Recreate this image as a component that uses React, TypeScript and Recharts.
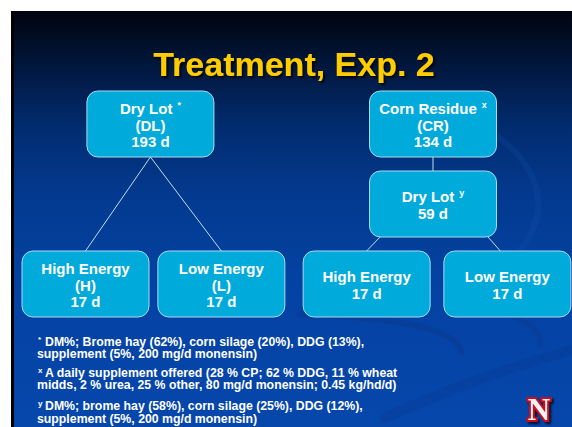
import React from 'react';
import { ScatterChart, Scatter, XAxis, YAxis } from 'recharts';

// tree nodes (x = % of slide width, level = row of the tree)
const nodeIds = ['DL', 'CR', 'DLY', 'H', 'L', 'HE', 'LE'];
const nodeLines = [
  ['Dry Lot', '(DL)', '193 d'],
  ['Corn Residue', '(CR)', '134 d'],
  ['Dry Lot', '59 d'],
  ['High Energy', '(H)', '17 d'],
  ['Low Energy', '(L)', '17 d'],
  ['High Energy', '17 d'],
  ['Low Energy', '17 d'],
];
const nodeMarks = ['*', 'x', 'y', '', '', '', ''];
const nodeX = [26.3, 75.7, 75.7, 14.95, 38.7, 64.1, 88.7];
const nodeLevel = [0, 0, 1, 2, 2, 2, 2];

// parent -> child links
const edgeFrom = ['DL', 'DL', 'CR', 'DLY', 'DLY'];
const edgeTo = ['H', 'L', 'DLY', 'HE', 'LE'];

const title = 'Treatment, Exp. 2';
const footMarks = ['*', 'x', 'y'];
const footLines = [
  ['DM%; Brome hay (62%), corn silage (20%), DDG (13%),', 'supplement (5%, 200 mg/d monensin)'],
  ['A daily supplement offered (28 % CP; 62 % DDG, 11 % wheat', 'midds, 2 % urea, 25 % other, 80 mg/d monensin; 0.45 kg/hd/d)'],
  ['DM%; brome hay (58%), corn silage (25%), DDG (12%),', 'supplement (5%, 200 mg/d monensin)'],
];

const W = 572;
const H = 427;
const PX_PER_LEVEL = 80;
const BOX_W = 127;
const BOX_H = 66;
const FONT = '"Liberation Sans", Arial, sans-serif';

// where each link leaves the parent box (px from centre)
const edgeSrcOffset = [0, 0, 0, -53, 55];
const edgeDstOffset = [0, 0, 0, 0, -7];

const nodes = nodeIds.map((id, i) => ({
  id,
  x: nodeX[i],
  level: nodeLevel[i],
  lines: nodeLines[i],
  mark: nodeMarks[i],
}));

const pxToX = (px: number) => (px / W) * 100;
const halfLevel = BOX_H / 2 / PX_PER_LEVEL;

const edges = edgeFrom.map((from, i) => {
  const a = nodes.find((n) => n.id === from)!;
  const b = nodes.find((n) => n.id === edgeTo[i])!;
  return [
    { x: a.x + pxToX(edgeSrcOffset[i]), level: a.level + halfLevel },
    { x: b.x + pxToX(edgeDstOffset[i]), level: b.level - halfLevel },
  ];
});

const NodeBox = (props: any) => {
  const { cx, cy, payload } = props;
  const n = payload.lines.length;
  return (
    <g>
      <rect
        x={cx - BOX_W / 2}
        y={cy - BOX_H / 2}
        width={BOX_W}
        height={BOX_H}
        rx={11}
        fill="#00abdb"
        stroke="#a8dcf0"
        strokeWidth={1}
      />
      {payload.lines.map((t: string, i: number) => (
        <text
          key={i}
          x={cx}
          y={cy + 6.5 + (i - (n - 1) / 2) * 16.5}
          textAnchor="middle"
          fill="#ffffff"
          fontFamily={FONT}
          fontWeight="bold"
          fontSize={15}
        >
          {t}
          {i === 0 && payload.mark ? (
            <tspan dx={5} dy={-6} fontSize={9}>
              {payload.mark}
            </tspan>
          ) : null}
        </text>
      ))}
    </g>
  );
};

const Empty = () => <g />;

export default function App() {
  const footBase = [345.5, 376.5, 410];
  return (
    <div style={{ position: 'absolute', left: 0, top: 0, width: W, height: H, background: '#fff', overflow: 'hidden' }}>
      <div
        style={{
          position: 'absolute',
          left: 11,
          top: 11,
          width: W - 11,
          height: H - 11,
          background:
            'linear-gradient(to bottom, #00040e 0%, #011840 14%, #022c70 28%, #033a90 45%, #0442a2 65%, #0647ac 100%)',
        }}
      />
      <div style={{ position: 'absolute', left: 11, top: 11, width: 3, height: H - 11, background: '#000' }} />
      <svg width={W} height={H} style={{ position: 'absolute', left: 0, top: 0 }}>
        <g fill="none" strokeLinecap="round">
          <path d="M 300 314 C 390 318, 455 326, 462 352" stroke="#0a3a92" strokeWidth={6} opacity={0.55} />
          <path d="M 470 306 C 512 312, 545 326, 540 346" stroke="#0a3a92" strokeWidth={5} opacity={0.5} />
          <path d="M 385 418 C 450 388, 520 364, 580 348" stroke="#083c98" strokeWidth={10} opacity={0.5} />
          <path d="M 470 120 C 530 150, 560 200, 520 250" stroke="#1a58b8" strokeWidth={6} opacity={0.18} />
        </g>
      </svg>

      <div style={{ position: 'absolute', left: 0, top: 0 }}>
        <ScatterChart width={W} height={H} margin={{ top: 0, right: 0, bottom: 0, left: 0 }}>
          <XAxis type="number" dataKey="x" domain={[0, 100]} hide />
          <YAxis
            type="number"
            dataKey="level"
            domain={[-124 / PX_PER_LEVEL, (H - 124) / PX_PER_LEVEL]}
            reversed
            hide
          />
          {edges.map((seg, i) => (
            <Scatter
              key={'e' + i}
              data={seg}
              line={{ stroke: '#b8e0f2', strokeWidth: 1 }}
              shape={Empty}
              isAnimationActive={false}
            />
          ))}
          <Scatter data={nodes} shape={NodeBox} isAnimationActive={false} />
        </ScatterChart>
      </div>

      <svg width={W} height={H} style={{ position: 'absolute', left: 0, top: 0, pointerEvents: 'none' }}>
        <defs>
          <filter id="shadow" x="-10%" y="-20%" width="130%" height="160%">
            <feDropShadow dx={2} dy={2} stdDeviation={0.8} floodColor="#000" floodOpacity={0.8} />
          </filter>
        </defs>
        <text
          x={294}
          y={76}
          textAnchor="middle"
          fontFamily={FONT}
          fontWeight="bold"
          fontSize={34}
          fill="#ffcc00"
          filter="url(#shadow)"
        >
          {title}
        </text>

        {footLines.map((lines, k) => (
          <g key={k} fontFamily={FONT} fontWeight="bold" fill="#ffffff">
            <text x={38} y={footBase[k] - 4} fontSize={8}>
              {footMarks[k]}
            </text>
            <text x={45} y={footBase[k]} fontSize={12.3}>
              {lines[0]}
            </text>
            <text x={37} y={footBase[k] + 12.5} fontSize={12.3}>
              {lines[1]}
            </text>
          </g>
        ))}

        <text
          x={539}
          y={420}
          textAnchor="middle"
          fontFamily='"Liberation Serif", serif'
          fontWeight="bold"
          fontSize={31}
          fill="#f4f4f4"
          stroke="#c80f1e"
          strokeWidth={4}
          paintOrder="stroke"
          filter="url(#shadow)"
        >
          N
        </text>
      </svg>
    </div>
  );
}
